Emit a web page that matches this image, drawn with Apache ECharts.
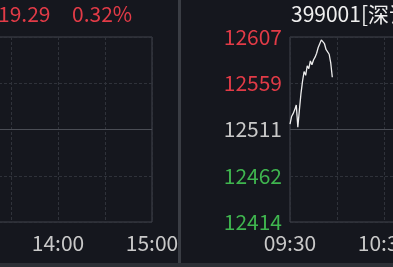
<!DOCTYPE html>
<html><head><meta charset="utf-8">
<script src="https://cdn.jsdelivr.net/npm/echarts@6/dist/echarts.min.js"></script>
<style>html,body{margin:0;padding:0;background:#15171e;overflow:hidden}#c{width:393px;height:267px}</style>
</head><body><div id="c"></div>
<script>
// ---- data ----
const timeTicks = ['09:30','10:00','10:30','11:00','11:30/13:00','13:30','14:00','14:30','15:00'];
const leftTitlePrice = '19.29';
const leftTitlePct = '0.32%';
const rightTitle = '399001[深证成指]';
const rightYTicks = [12414, 12462, 12511, 12559, 12607];
const rightPrevClose = 12511;
const rightValues = [12516, 12524, 12527, 12531, 12536, 12513, 12531, 12548, 12561, 12571,
                     12567, 12577, 12574, 12582, 12578, 12583, 12586, 12590, 12596, 12600,
                     12604, 12606, 12600, 12594, 12596, 12589, 12580, 12565];
const leftYTicks = [-2, -1, 0, 1, 2];   // percent scale of the left (empty afternoon) panel
const leftValues = [];

// ---- style ----
const BG = '#15171e', RED = '#e23b47', GREEN = '#3fb54f', GREY = '#c9c9c9', WHITE = '#efefef';
const FONT = '"Noto Sans CJK SC", "Noto Sans", sans-serif';
const BORDER = '#42454d', DASH = '#2f323a', MID = '#4a4d55';

const chart = echarts.init(document.getElementById('c'), null, {renderer: 'canvas'});

function xAxisCommon(gridIndex, min, max, showMin) {
  return {
    type: 'value', gridIndex, min, max, interval: 30,
    axisLine: {show: false}, axisTick: {show: false},
    axisLabel: {
      color: GREY, fontSize: 21, fontFamily: FONT, margin: 11,
      showMinLabel: showMin, showMaxLabel: true, hideOverlap: false,
      formatter: v => (v / 30) % 2 === 0 ? timeTicks[v / 30] : ''
    },
    splitLine: {show: true, lineStyle: {color: DASH, type: [3, 2], width: 1}}
  };
}

chart.setOption({
  backgroundColor: BG,
  animation: false,
  title: [
    {text: leftTitlePrice, left: -2, top: 4, padding: 0,
     textStyle: {color: RED, fontSize: 21, fontWeight: 'normal', fontFamily: FONT}},
    {text: leftTitlePct, left: 72, top: 4, padding: 0,
     textStyle: {color: RED, fontSize: 21, fontWeight: 'normal', fontFamily: FONT}},
    {text: rightTitle, left: 291, top: 4, padding: 0,
     textStyle: {color: WHITE, fontSize: 21, fontWeight: 'normal', fontFamily: FONT}}
  ],
  grid: [
    {left: -36, width: 188, top: 37, height: 185, outerBoundsMode: 'none', containLabel: false,
     show: true, borderColor: BORDER, borderWidth: 1, backgroundColor: 'transparent'},
    {left: 290, width: 376, top: 37, height: 185, outerBoundsMode: 'none', containLabel: false,
     show: true, borderColor: BORDER, borderWidth: 1, backgroundColor: 'transparent'}
  ],
  xAxis: [
    xAxisCommon(0, 120, 240, false),
    xAxisCommon(1, 0, 240, true)
  ],
  yAxis: [
    {type: 'value', gridIndex: 0, min: leftYTicks[0], max: leftYTicks[leftYTicks.length - 1], interval: 1,
     axisLine: {show: false}, axisTick: {show: false}, axisLabel: {show: false},
     splitLine: {show: true, lineStyle: {color: DASH, type: [3, 2]}}},
    {type: 'value', gridIndex: 1, min: rightYTicks[0], max: rightYTicks[rightYTicks.length - 1],
     axisLine: {show: false},
     axisTick: {show: false, customValues: rightYTicks},
     axisLabel: {
       customValues: rightYTicks, fontSize: 21, fontFamily: FONT, margin: 8,
       color: v => v > rightPrevClose ? RED : (v < rightPrevClose ? GREEN : GREY),
       formatter: v => String(v)
     },
     splitLine: {show: true, lineStyle: {color: DASH, type: [3, 2]}}}
  ],
  series: [
    {type: 'line', xAxisIndex: 0, yAxisIndex: 0, data: leftValues, showSymbol: false,
     markLine: {silent: true, symbol: 'none', label: {show: false},
       lineStyle: {color: MID, type: 'solid', width: 1}, data: [{yAxis: 0}]}},
    {type: 'line', xAxisIndex: 1, yAxisIndex: 1, showSymbol: false, symbol: 'none',
     data: rightValues.map((v, i) => [i, v]),
     lineStyle: {color: '#ececec', width: 1.3},
     markLine: {silent: true, symbol: 'none', label: {show: false},
       lineStyle: {color: MID, type: 'solid', width: 1}, data: [{yAxis: rightPrevClose}]}}
  ],
  graphic: [
    {type: 'rect', z: 100, shape: {x: 178, y: 0, width: 3, height: 263}, style: {fill: '#3a3d44'}},
    {type: 'rect', z: 100, shape: {x: 0, y: 263, width: 393, height: 4}, style: {fill: '#2c2f35'}}
  ]
});
</script>
</body></html>
